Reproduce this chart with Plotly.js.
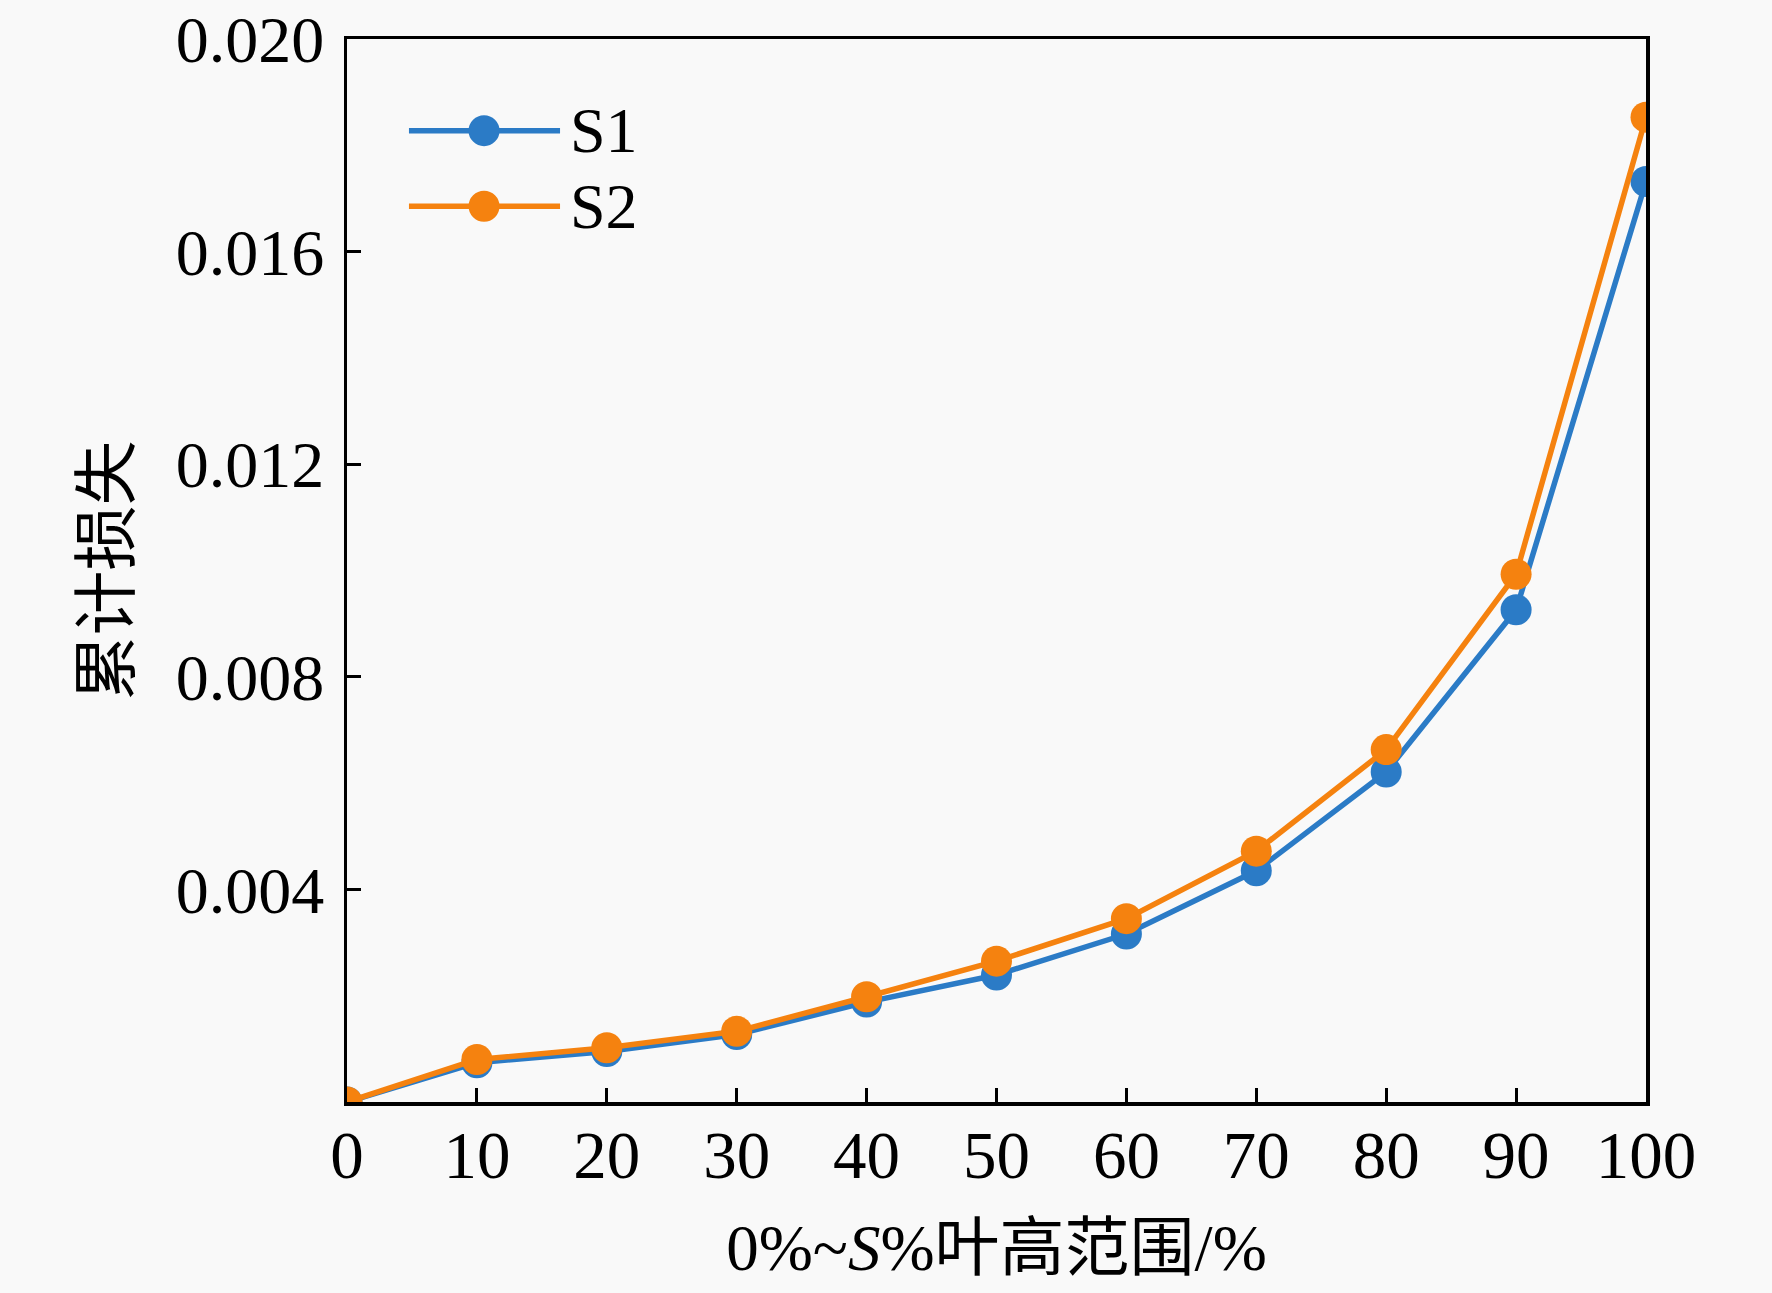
<!DOCTYPE html>
<html>
<head>
<meta charset="utf-8">
<script src="https://cdn.plot.ly/plotly-3.0.1.min.js"></script>
<style>html,body{margin:0;padding:0;background:#f9f9f9;}#chart{width:1772px;height:1293px;}</style>
</head>
<body>
<div id="chart"></div>
<script>
// Span range S (% of blade height)
const spanPct = [0, 10, 20, 30, 40, 50, 60, 70, 80, 90, 100];
// Cumulative loss, series S1
const lossS1 = [0.00000, 0.00074, 0.00095, 0.00127, 0.00188, 0.00239, 0.00316, 0.00435, 0.00621, 0.00926, 0.01732];
// Cumulative loss, series S2
const lossS2 = [0.00000, 0.00080, 0.00102, 0.00133, 0.00198, 0.00265, 0.00345, 0.00472, 0.00663, 0.00993, 0.01853];
const seriesNames = ['S1', 'S2'];
const xTicks = [0, 10, 20, 30, 40, 50, 60, 70, 80, 90, 100];
const yTicks = [0.004, 0.008, 0.012, 0.016, 0.020];
const yTickText = ['0.004', '0.008', '0.012', '0.016', '0.020'];

const serif = '"Liberation Serif", "Times New Roman", "Noto Sans CJK SC", serif';
const colors = ['#2b7bc6', '#f5820f'];
const seriesData = [lossS1, lossS2];

const traces = seriesData.map((ys, i) => ({
  x: spanPct, y: ys, name: seriesNames[i], type: 'scatter', mode: 'lines+markers',
  line: {color: colors[i], width: 5.5}, marker: {color: colors[i], size: 31}
}));

// Legend drawn as layout decoration (line + large marker + label), in plot-area fractions
const legendRows = [0.9138, 0.8426];
const legendLine = [0.0477, 0.164];
const legendMarkX = 0.1055;
const legendTextX = 0.170;
const shapes = [];
const annotations = [];
seriesNames.forEach((nm, i) => {
  shapes.push({type: 'line', xref: 'paper', yref: 'paper', x0: legendLine[0], x1: legendLine[1],
               y0: legendRows[i], y1: legendRows[i], line: {color: colors[i], width: 5.5}});
  shapes.push({type: 'circle', xref: 'paper', yref: 'paper', xsizemode: 'pixel', ysizemode: 'pixel',
               xanchor: legendMarkX, yanchor: legendRows[i], x0: -15.5, x1: 15.5, y0: -15.5, y1: 15.5,
               fillcolor: colors[i], line: {width: 0}});
  annotations.push({xref: 'paper', yref: 'paper', x: legendTextX, y: legendRows[i], xanchor: 'left', yanchor: 'middle',
                    text: nm, showarrow: false, font: {family: serif, size: 64, color: '#000'}});
});

const layout = {
  width: 1772, height: 1293,
  paper_bgcolor: '#f9f9f9', plot_bgcolor: '#f9f9f9',
  margin: {l: 347, r: 126, t: 39, b: 191},
  font: {family: serif, size: 64, color: '#000'},
  showlegend: false,
  shapes: shapes,
  annotations: annotations,
  xaxis: {
    range: [0, 100], tickvals: xTicks, ticktext: xTicks.map(String),
    ticks: 'inside', ticklen: 14, tickwidth: 3, tickcolor: '#000',
    showline: true, linewidth: 3.5, linecolor: '#000', mirror: true,
    showgrid: false, zeroline: false, ticklabelstandoff: -8, ticklabeloverflow: 'allow',
    tickfont: {family: serif, size: 67, color: '#000'},
    title: {text: '0%~<i>S</i>%叶高范围/%', font: {family: serif, size: 65, color: '#000'}, standoff: 34}
  },
  yaxis: {
    range: [0, 0.0200001], tickvals: yTicks, ticktext: yTickText,
    ticks: 'inside', ticklen: 14, tickwidth: 3, tickcolor: '#000',
    showline: true, linewidth: 3.5, linecolor: '#000', mirror: true,
    showgrid: false, zeroline: false, ticklabelstandoff: 6, ticklabeloverflow: 'allow',
    tickfont: {family: serif, size: 66, color: '#000'},
    title: {text: '累计损失', font: {family: serif, size: 65, color: '#000'}, standoff: 26}
  }
};

Plotly.newPlot('chart', traces, layout, {displayModeBar: false, staticPlot: true});
</script>
</body>
</html>
